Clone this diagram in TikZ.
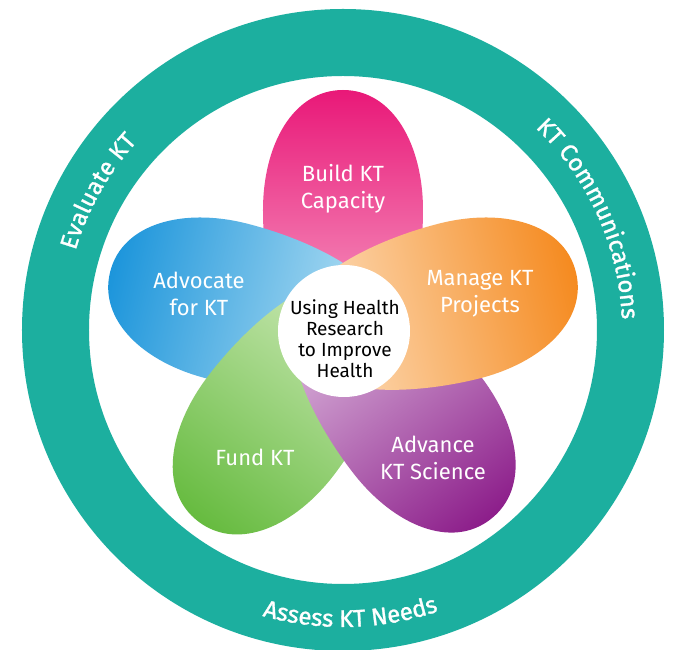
\documentclass[tikz,border=0pt]{standalone}
\usepackage{fontspec}
\setmainfont{Fira Sans}
\newfontfamily\ringfont[FakeBold=1.2]{Fira Sans}
\usetikzlibrary{decorations.text}
\definecolor{ringteal}{HTML}{1CAF9F}
\definecolor{pinkD}{HTML}{E91878}
\definecolor{pinkL}{HTML}{F8B5D2}
\definecolor{orangeD}{HTML}{F58A1F}
\definecolor{orangeL}{HTML}{FDE3C6}
\definecolor{purpleD}{HTML}{8C1D8A}
\definecolor{purpleL}{HTML}{E2C6E4}
\definecolor{greenD}{HTML}{66BB3F}
\definecolor{greenL}{HTML}{D3ECBF}
\definecolor{blueD}{HTML}{1C95DB}
\definecolor{blueL}{HTML}{C2E6F5}
\def\petalpath{(-50,0) .. controls (-50,60) and (50,80) .. (120,80) .. controls (185,80) and (240,50) .. (240,0) .. controls (240,-50) and (185,-80) .. (120,-80) .. controls (50,-80) and (-50,-60) .. (-50,0) -- cycle}
\tikzset{
  petaltext/.style={text=white, align=center, font=\fontsize{22}{27}\selectfont, inner sep=0pt},
  coretext/.style={text=black, align=center, font=\fontsize{19}{21}\selectfont, inner sep=0pt},
}
\begin{document}
\begin{tikzpicture}[x=1pt,y=1pt]
\useasboundingbox[fill=white] (-343,-320) rectangle (330,330);
% ring
\draw[ringteal, line width=67pt] (0,0) circle[radius=287.5];
% petals (bottom to top)
\begin{scope}[transform canvas={rotate=90}]
  \path[left color=pinkL, right color=pinkD] \petalpath;
\end{scope}
\begin{scope}[transform canvas={rotate=166}]
  \path[left color=blueL, right color=blueD] \petalpath;
\end{scope}
\begin{scope}[transform canvas={rotate=-127}]
  \path[left color=greenL, right color=greenD] \petalpath;
\end{scope}
\begin{scope}[transform canvas={rotate=-52}]
  \path[left color=purpleL, right color=purpleD] \petalpath;
\end{scope}
\begin{scope}[transform canvas={rotate=14}]
  \path[left color=orangeL, right color=orangeD] \petalpath;
\end{scope}
% centre
\fill[white] (1,-1) circle[radius=66];
\node[coretext] (core) at (2,-9) {Using Health\\Research\\to Improve\\Health};
\node[petaltext] (build) at (0,141) {Build KT\\Capacity};
\node[petaltext] (advocate) at (-144,36.5) {Advocate\\for KT};
\node[petaltext] (manage) at (137,36.5) {Manage KT\\Projects};
\node[petaltext] (advance) at (90,-128) {Advance\\KT Science};
\node[petaltext] (fund) at (-88,-127) {Fund KT};
% ring labels
\path[decorate, decoration={text along path, text align=center,
  text={|\ringfont\fontsize{24}{24}\selectfont\color{white}|Evaluate KT}}]
  (180.5:279) arc[start angle=180.5, end angle=120.5, radius=279];
\path[decorate, decoration={text along path, text align=center,
  text={|\ringfont\fontsize{24}{24}\selectfont\color{white}|KT Communications}}]
  (64:279) arc[start angle=64, end angle=-15.4, radius=279];
\path[decorate, decoration={text along path, text align=center,
  text={|\ringfont\fontsize{24}{24}\selectfont\color{white}|Assess KT Needs}}]
  (-128.5:297) arc[start angle=-128.5, end angle=-48.5, radius=297];
\end{tikzpicture}
\end{document}
